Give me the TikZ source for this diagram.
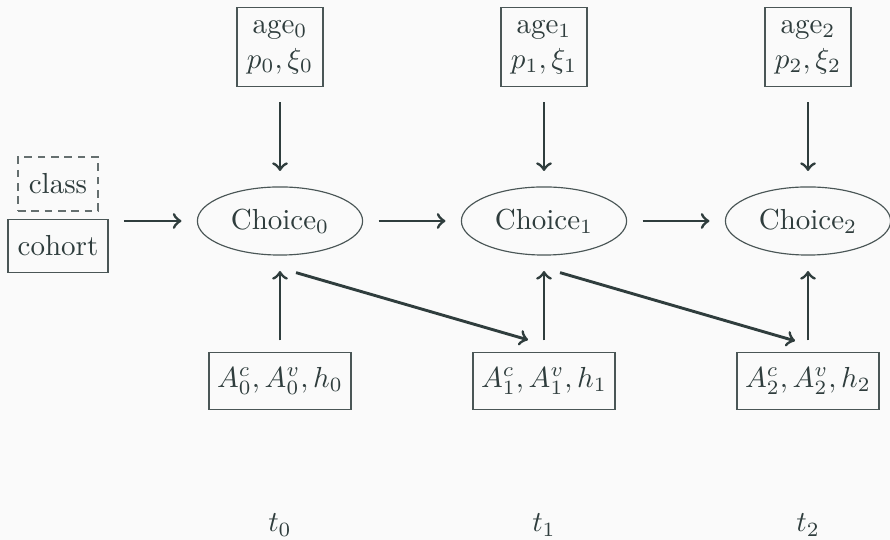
\documentclass[tikz,border=0pt]{standalone}
\usetikzlibrary{shapes.geometric,calc}
\definecolor{bg}{HTML}{FAFAFA}
\definecolor{ink}{HTML}{2F3D3D}
\definecolor{edge}{HTML}{4A5656}
\begin{document}
\begin{tikzpicture}[x=0.345pt,y=-0.345pt,
  every node/.style={text=ink},
  infobox/.style={draw=edge,line width=0.4pt,inner sep=0pt,align=center},
  choicebox/.style={ellipse,draw=edge,line width=0.4pt,minimum width=57pt,minimum height=23.5pt,inner sep=0pt},
  flow/.style={->,draw=ink,line width=1pt,shorten <=5.3pt,shorten >=5.3pt}]
\fill[bg] (0,0) rectangle (890,540);
\useasboundingbox (0,0) rectangle (890,540);
\clip (0,0) rectangle (890,540);
% top boxes
\node[infobox,minimum width=29.7pt,minimum height=27.3pt] (g0) at (280,47) {age$_0$\\$p_0,\xi_0$};
\node[infobox,minimum width=29.7pt,minimum height=27.3pt] (g1) at (544,47) {age$_1$\\$p_1,\xi_1$};
\node[infobox,minimum width=29.7pt,minimum height=27.3pt] (g2) at (808,47) {age$_2$\\$p_2,\xi_2$};
% choices
\node[choicebox] (c0) at (280,221) {Choice$_0$};
\node[choicebox] (c1) at (544,221) {Choice$_1$};
\node[choicebox] (c2) at (808,221) {Choice$_2$};
% class / cohort
\node[infobox,draw=edge!85,dash pattern=on 2.6pt off 2pt,minimum width=27.6pt,minimum height=18.6pt] (cl) at (58,184) {class};
\node[infobox,minimum width=34.5pt,minimum height=18.3pt] (co) at (58,246) {cohort};
% bottom boxes
\node[infobox,minimum width=49pt,minimum height=19.7pt] (a0) at (280,381) {$A^c_0,A^v_0,h_0$};
\node[infobox,minimum width=49pt,minimum height=19.7pt] (a1) at (544,381) {$A^c_1,A^v_1,h_1$};
\node[infobox,minimum width=49pt,minimum height=19.7pt] (a2) at (808,381) {$A^c_2,A^v_2,h_2$};
% time labels
\node (t0) at (280,525) {$t_0$};
\node (t1) at (544,525) {$t_1$};
\node (t2) at (808,525) {$t_2$};
% arrows
\draw[flow] (co.east |- c0) -- (c0.west);
\draw[flow] (c0) -- (c1);
\draw[flow] (c1) -- (c2);
\draw[flow] (g0) -- (c0);
\draw[flow] (g1) -- (c1);
\draw[flow] (g2) -- (c2);
\draw[flow,shorten <=4pt] (a0.north) -- (c0.south);
\draw[flow,shorten <=4pt] (a1.north) -- (c1.south);
\draw[flow,shorten <=4pt] (a2.north) -- (c2.south);
\draw[flow,shorten <=0pt,shorten >=0pt] ($(c0.south)+(16,17)$) -- ($(a1.north)+(-16,-12)$);
\draw[flow,shorten <=0pt,shorten >=0pt] ($(c1.south)+(16,17)$) -- ($(a2.north)+(-13,-11)$);
\end{tikzpicture}
\end{document}
